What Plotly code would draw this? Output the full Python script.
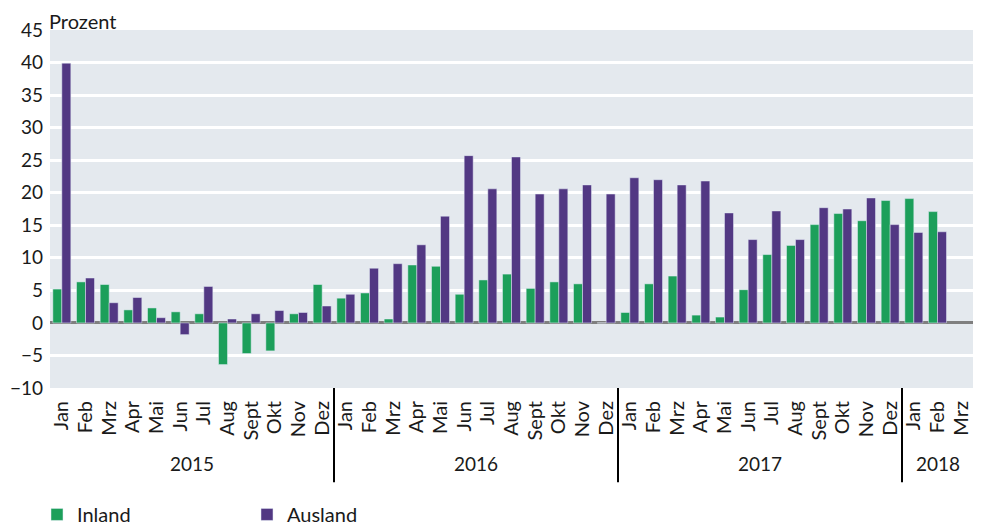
import plotly.graph_objects as go

years = ["2015"] * 12 + ["2016"] * 12 + ["2017"] * 12 + ["2018"] * 3
months = ["Jan", "Feb", "Mrz", "Apr", "Mai", "Jun", "Jul", "Aug", "Sept", "Okt", "Nov", "Dez"] * 3 + ["Jan", "Feb", "Mrz"]
year_labels = ["2015", "2016", "2017", "2018"]

inland = [5.2, 6.3, 5.9, 2.0, 2.3, 1.7, 1.4, -6.4, -4.7, -4.3, 1.4, 5.9,
          3.8, 4.6, 0.6, 8.9, 8.7, 4.4, 6.6, 7.5, 5.3, 6.3, 6.0, 0.0,
          1.6, 6.0, 7.2, 1.2, 0.9, 5.1, 10.5, 11.9, 15.1, 16.8, 15.7, 18.8,
          19.1, 17.1, None]
ausland = [39.9, 6.9, 3.1, 3.9, 0.8, -1.8, 5.6, 0.6, 1.4, 1.9, 1.6, 2.6,
           4.4, 8.4, 9.1, 12.0, 16.4, 25.7, 20.6, 25.5, 19.8, 20.6, 21.2, 19.8,
           22.3, 22.0, 21.2, 21.8, 16.9, 12.8, 17.2, 12.8, 17.7, 17.5, 19.2, 15.1,
           13.9, 14.0, None]

cats = [f"{y}-{m}" for y, m in zip(years, months)]

GREEN = "#1c9f5a"
PURPLE = "#523883"
FONT = "Lato"

fig = go.Figure()
fig.add_trace(go.Bar(x=cats, y=inland, name="Inland", marker_color=GREEN))
fig.add_trace(go.Bar(x=cats, y=ausland, name="Ausland", marker_color=PURPLE))

fig.update_layout(
    width=986, height=527,
    margin=dict(l=42, r=21, t=22, b=147, autoexpand=False),
    paper_bgcolor="white",
    plot_bgcolor="#e4e9ee",
    barmode="group",
    bargap=0.24,
    bargroupgap=0,
    font=dict(family=FONT, size=17, color="#1a1a1a"),
    showlegend=True,
    legend=dict(orientation="h", xref="container", yref="container",
                x=0.0294, y=0.076, xanchor="left", yanchor="top",
                entrywidth=165, entrywidthmode="pixels",
                font=dict(size=20), itemwidth=30),
)
fig.update_xaxes(
    type="category",
    categoryorder="array",
    categoryarray=cats,
    tickmode="array",
    tickvals=cats,
    ticktext=months,
    tickangle=-90,
    tickfont=dict(size=20),
    showgrid=False,
    ticks="",
    showline=False,
    automargin=False,
    ticklabelstandoff=8,
    range=[-0.5, len(cats) - 0.5],
)
fig.update_yaxes(
    range=[-10, 45],
    dtick=5,
    tickfont=dict(size=19),
    gridcolor="white",
    gridwidth=3,
    zeroline=True,
    zerolinecolor="#7f7f7f",
    zerolinewidth=3,
    ticks="",
    automargin=False,
    ticklabelstandoff=6,
)

# year dividers and labels
counts = [years.count(y) for y in year_labels]
start = 0
for i, (yl, n) in enumerate(zip(year_labels, counts)):
    center = start + (n - 1) / 2
    fig.add_annotation(text=yl, xref="x", yref="paper", x=center, y=-0.212,
                       xanchor="center", yanchor="middle", showarrow=False,
                       font=dict(size=19))
    end = start + n
    if i < len(year_labels) - 1:
        fig.add_shape(type="line", xref="x", yref="paper",
                      x0=end - 0.5, x1=end - 0.5, y0=0, y1=-0.263,
                      line=dict(color="black", width=2))
    start = end

fig.add_annotation(text="Prozent", xref="paper", yref="paper", x=0.0, y=1.0615,
                   xanchor="left", yanchor="top", showarrow=False,
                   font=dict(size=20), xshift=-2, borderpad=0)

fig.write_html("out.html")
